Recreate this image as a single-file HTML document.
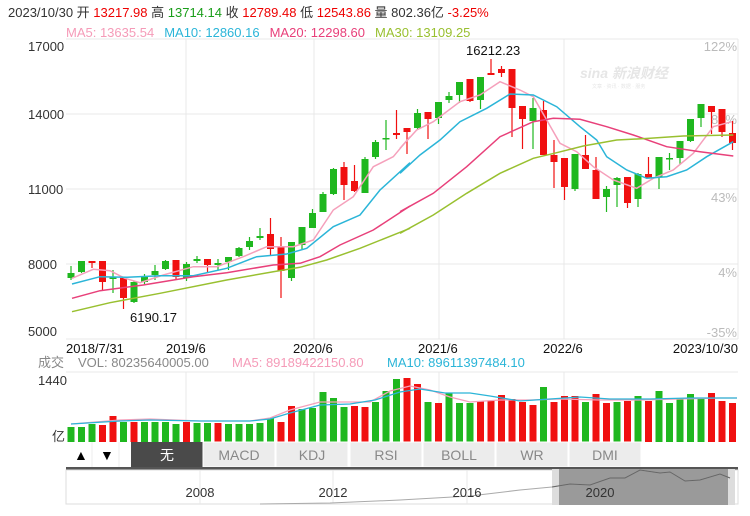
<!DOCTYPE html>
<html><head><meta charset="utf-8">
<style>
body{margin:0;background:#fff;width:750px;height:511px;overflow:hidden;font-family:"Liberation Sans","Noto Sans CJK SC",sans-serif}
svg text{font-family:"Liberation Sans","Noto Sans CJK SC",sans-serif}
</style></head><body>
<svg id="s" width="750" height="511" xmlns="http://www.w3.org/2000/svg">
<g font-size="13">
<text x="8" y="17" fill="#333">2023/10/30 开 <tspan fill="#e00">13217.98</tspan> 高 <tspan fill="#1a9e1a">13714.14</tspan> 收 <tspan fill="#e00">12789.48</tspan> 低 <tspan fill="#e00">12543.86</tspan> 量 802.36亿 <tspan fill="#e00">-3.25%</tspan></text>
<text x="66" y="37"><tspan fill="#f59bb8">MA5: 13635.54</tspan><tspan dx="10" fill="#2bb5d8">MA10: 12860.16</tspan><tspan dx="10" fill="#e8407a">MA20: 12298.60</tspan><tspan dx="10" fill="#99c030">MA30: 13109.25</tspan></text>
</g>
<g id="grid" stroke="#e8e8e8" stroke-width="1"></g>
<g font-size="13" fill="#333">
<text x="28" y="51">17000</text><text x="28" y="119">14000</text><text x="28" y="194">11000</text><text x="28" y="269">8000</text><text x="28" y="336">5000</text>
</g>
<g font-size="13" fill="#bbb" text-anchor="end">
<text x="737" y="51">122%</text><text x="737" y="124">83%</text><text x="737" y="202">43%</text><text x="737" y="277">4%</text><text x="737" y="337">-35%</text>
</g>
<text x="580" y="78" font-size="14" fill="#e6e6e6" font-style="italic" font-weight="bold">sina 新浪财经</text>
<text x="592" y="88" font-size="5" fill="#e6e6e6">文章 · 资讯 · 数据 · 服务</text>
<g id="c"></g>
<g id="ma" fill="none" stroke-width="1.5"></g>
<text x="466" y="55" font-size="13" fill="#111">16212.23</text>
<text x="130" y="322" font-size="13" fill="#111">6190.17</text>
<g font-size="13" fill="#111">
<text x="66" y="353">2018/7/31</text><text x="166" y="353">2019/6</text><text x="293" y="353">2020/6</text><text x="418" y="353">2021/6</text><text x="543" y="353">2022/6</text><text x="738" y="353" text-anchor="end">2023/10/30</text>
</g>
<g font-size="13">
<text x="38" y="367" fill="#888">成交</text><text x="78" y="367" fill="#888">VOL: 80235640005.00</text>
<text x="232" y="367" fill="#f59bb8">MA5: 89189422150.80</text><text x="387" y="367" fill="#2bb5d8">MA10: 89611397484.10</text>
<text x="38" y="385" fill="#333">1440</text><text x="52" y="441" fill="#333">亿</text>
</g>
<line x1="66" y1="372" x2="738" y2="372" stroke="#e8e8e8"/>
<g id="v"></g>
<g id="vm" fill="none" stroke-width="1.3"></g>
<g font-size="14">
<rect x="66" y="442" width="672" height="25" fill="#fff"/>
<line x1="92" y1="442" x2="92" y2="467" stroke="#eee"/><line x1="119" y1="442" x2="119" y2="467" stroke="#eee"/>
<text x="74" y="460">▲</text><text x="100" y="460">▼</text>
<rect x="131" y="442" width="72" height="25" fill="#4a4a4a"/>
<text x="167" y="460" fill="#fff" text-anchor="middle">无</text>
<g id="btn"></g>
<rect x="66" y="467" width="672" height="3" fill="#555"/>
<rect x="66" y="470" width="672" height="34" fill="#fff" stroke="#ddd"/>
<line x1="200" y1="470" x2="200" y2="504" stroke="#e8e8e8"/><line x1="333" y1="470" x2="333" y2="504" stroke="#e8e8e8"/><line x1="467" y1="470" x2="467" y2="504" stroke="#e8e8e8"/><line x1="600" y1="470" x2="600" y2="504" stroke="#e8e8e8"/>
<rect x="552" y="469" width="178" height="36" fill="#9a9a9a"/>
<rect x="552" y="469" width="7" height="36" fill="#ddd"/><rect x="728" y="469" width="7" height="36" fill="#ddd"/>
<polyline fill="none" stroke="#aaa" points="260,504 330,503 400,500 470,496 520,490 552,487 570,484 590,485 610,478 625,478 640,470 660,473 670,472 685,481 700,480 720,474 730,478"/>
<polyline fill="none" stroke="#666" points="552,487 570,484 590,485 610,478 625,478 640,470 660,473 670,472 685,481 700,480 720,474 730,478"/>
<g font-size="13" fill="#333" text-anchor="middle"><text x="200" y="497">2008</text><text x="333" y="497">2012</text><text x="467" y="497">2016</text><text x="600" y="497">2020</text></g>
</g>
</svg>
<script>
var NS="http://www.w3.org/2000/svg";
function el(p,t,a){var e=document.createElementNS(NS,t);for(var k in a)e.setAttribute(k,a[k]);document.getElementById(p).appendChild(e);return e;}
[39,114,189,264,339].forEach(function(y){el("grid","line",{x1:66,x2:738,y1:y,y2:y});});
[186,314,439,564].forEach(function(x){el("grid","line",{x1:x,x2:x,y1:39,y2:339});el("grid","line",{x1:x,x2:x,y1:372,y2:442});});
el("grid","line",{x1:738,x2:738,y1:39,y2:339});
var C=[[273,278,266,280,'g'],[261,272,261,273,'g'],[261,263,261,268,'r'],[261,282,261,290,'r'],[277,279,270,293,'g'],[278,298,277,309,'r'],[282,302,281,303,'g'],[277,282,274,284,'g'],[271,275,265,280,'g'],[261,269,260,270,'g'],[260,277,260,280,'r'],[264,278,262,281,'g'],[259,261,256,263,'g'],[259,265,259,273,'r'],[263,265,259,270,'g'],[257,262,257,270,'g'],[248,256,247,257,'g'],[241,247,237,250,'g'],[236,238,228,240,'g'],[234,249,218,256,'r'],[247,271,237,298,'r'],[242,278,242,281,'g'],[227,245,227,249,'g'],[213,228,209,228,'g'],[194,212,192,212,'g'],[169,194,168,195,'g'],[167,185,162,200,'r'],[181,191,165,192,'r'],[159,193,157,193,'g'],[142,157,140,159,'g'],[138,139,120,150,'g'],[133,135,110,139,'r'],[128,132,128,154,'r'],[113,128,109,130,'g'],[112,119,112,139,'r'],[102,118,102,124,'g'],[96,100,92,103,'g'],[82,95,82,103,'g'],[79,101,79,102,'r'],[77,100,77,109,'g'],[73,75,59,75,'r'],[69,73,66,77,'r'],[69,108,69,137,'r'],[106,119,106,149,'r'],[108,121,98,149,'g'],[110,155,101,155,'r'],[155,162,140,188,'r'],[158,187,158,200,'r'],[154,189,154,191,'g'],[155,169,135,169,'r'],[170,199,157,199,'r'],[189,197,186,212,'g'],[178,185,177,207,'g'],[177,203,177,208,'r'],[174,199,173,207,'g'],[174,178,157,178,'r'],[157,177,157,189,'g'],[158,159,153,170,'g'],[141,158,141,165,'g'],[119,141,119,142,'g'],[104,118,104,127,'g'],[106,112,106,134,'r'],[109,132,109,137,'r'],[133,143,121,150,'r']];
var col={g:'#1fb71f',r:'#f01010'};
C.forEach(function(c,i){var x=71+10.5*i,f=col[c[4]];
el("c","line",{x1:x,x2:x,y1:c[2],y2:c[3],stroke:f,"stroke-width":1.2});
el("c","rect",{x:x-3.5,y:c[0],width:7,height:Math.max(1.5,c[1]-c[0]),fill:f});});
function pl(g,pts,color,ox,oy){var s=[];for(var i=0;i<pts.length;i+=2)s.push((ox+pts[i]/3).toFixed(1)+","+(oy+pts[i+1]/3).toFixed(1));el(g,"polyline",{points:s.join(" "),stroke:color});}
pl("ma",[36,745,100,718,150,722,195,745,240,758,310,735,400,710,470,710,550,680,620,650,700,650,760,630,820,540,880,500,940,410,1000,380,1050,320],'#f5a0bb',60,30);
pl("ma",[0,355,50,300,100,275,180,215,240,195,300,155,360,180,400,200,440,270,480,340,530,365,580,410,640,450,710,475,760,445,820,420,880,370,940,290,995,275],'#f5a0bb',400,30);
pl("ma",[36,762,120,740,200,742,300,737,400,737,500,715,590,680,680,672,740,655,820,590,900,555,960,480,1050,398],'#2bb5d8',60,30);
pl("ma",[0,430,60,375,120,330,180,275,260,235,330,192,400,195,470,230,540,290,590,330,620,380,680,420,740,445,800,440,860,420,920,380,1000,335],'#2bb5d8',400,30);
pl("ma",[36,805,120,782,250,765,400,740,500,728,640,705,720,700,780,680,840,645,940,600,1050,528],'#e8407a',60,30);
pl("ma",[0,545,100,490,200,410,300,320,400,275,460,265,540,268,620,290,700,315,800,350,900,365,1000,378],'#e8407a',400,30);
pl("ma",[36,845,150,818,300,790,500,750,640,725,720,712,800,690,900,655,1050,595],'#99c030',60,30);
pl("ma",[0,610,100,555,200,490,300,430,400,385,470,368,550,348,650,330,750,325,850,318,1000,315],'#99c030',400,30);
var V=[[427,'g'],[427,'g'],[424,'g'],[425,'r'],[416,'r'],[422,'g'],[422,'r'],[422,'g'],[422,'g'],[422,'g'],[424,'g'],[422,'r'],[423,'g'],[423,'g'],[423,'r'],[424,'g'],[424,'g'],[424,'g'],[423,'g'],[418,'g'],[422,'r'],[406,'r'],[409,'g'],[408,'g'],[392,'g'],[398,'g'],[407,'g'],[406,'r'],[407,'r'],[402,'g'],[391,'g'],[379,'g'],[378,'r'],[384,'r'],[402,'g'],[403,'r'],[393,'g'],[403,'g'],[403,'g'],[401,'r'],[401,'r'],[395,'r'],[399,'r'],[402,'r'],[405,'r'],[387,'g'],[402,'r'],[396,'r'],[396,'r'],[402,'g'],[394,'r'],[403,'r'],[402,'g'],[401,'r'],[396,'g'],[401,'r'],[391,'g'],[403,'g'],[398,'g'],[394,'g'],[398,'g'],[393,'r'],[401,'r'],[403,'r']];
V.forEach(function(v,i){var x=71+10.5*i;el("v","rect",{x:x-3.5,y:v[0],width:7,height:442-v[0],fill:col[v[1]]});});
el("vm","polyline",{stroke:'#f5a0bb',points:"71,424 120,420 150,419 200,421 250,421 270,418 290,410 320,402 350,402 370,402 390,391 410,386 430,390 450,397 470,402 500,400 530,400 560,399 600,400 640,400 680,399 720,398 737,398"});
el("vm","polyline",{stroke:'#2bb5d8',points:"71,424 120,421 150,420 200,421 250,421 270,419 290,413 320,405 350,404 375,400 400,392 420,389 445,393 470,393 490,396 520,401 550,399 580,397 610,399 650,399 690,398 737,398"});
[["MACD",203],["KDJ",276],["RSI",350],["BOLL",423],["WR",496],["DMI",569]].forEach(function(b){
el("btn","rect",{x:b[1],y:442,width:72,height:25,fill:"#ececec",stroke:"#fff"});
var t=el("btn","text",{x:b[1]+36,y:460,"text-anchor":"middle",fill:"#888"});t.textContent=b[0];});
</script>
</body></html>
